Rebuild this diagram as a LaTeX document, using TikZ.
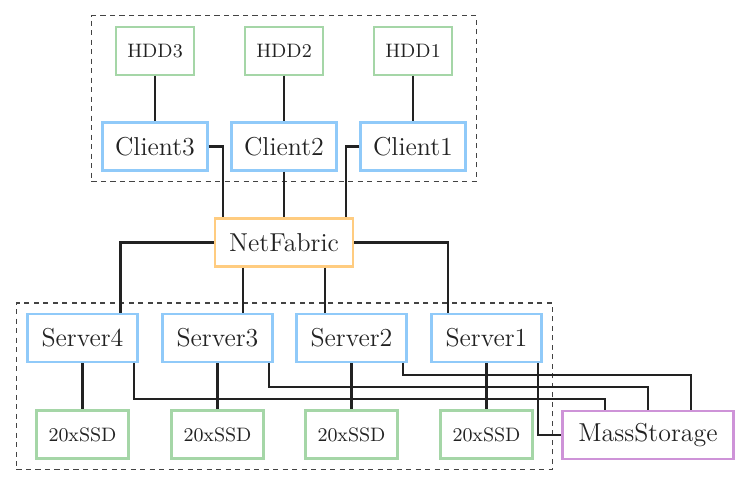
\documentclass[tikz,border=0pt]{standalone}
\usepackage{tikz}
\usetikzlibrary{
  positioning,  % relative placement
  fit,          % dashed groups round the nodes
  calc          % Calculations $...$
}
\def\px{0.463pt}
\definecolor{boxblue}{HTML}{90CAF9}
\definecolor{boxgreen}{HTML}{A5D6A7}
\definecolor{boxorange}{HTML}{FFCC80}
\definecolor{boxpurple}{HTML}{CE93D8}
\definecolor{wire}{HTML}{222222}
\tikzset{
  x=\px,
  y=\px,
  my box/.style={
    draw,
    rectangle,
    line width=0.95pt,
    minimum height=48*\px,
    inner sep=1mm,
    text=wire,
    font=\large
  },
  my disk/.style={
    my box,
    draw=boxgreen,
    font=\small
  },
  my host/.style={
    my box,
    draw=boxblue,
    minimum width=110*\px
  },
  my group/.style={
    draw=wire!85,
    line width=0.6pt,
    dash pattern=on 2.4pt off 2pt,
    inner sep=10*\px
  },
  wired/.style={
    draw=wire,
    line width=0.95pt
  }
}
\begin{document}
\begin{tikzpicture}
\useasboundingbox (0,0) rectangle (739,485);
% clients with their disks
\node[my disk,minimum width=78*\px] (hdd3) at (155,434.3) {HDD3};
\node[my disk,minimum width=78*\px] (hdd2) at (284,434.3) {HDD2};
\node[my disk,minimum width=78*\px] (hdd1) at (413,434.3) {HDD1};
\node[my host,minimum width=105*\px] (client3) at (155,338.5) {Client3};
\node[my host,minimum width=105*\px] (client2) at (284,338.5) {Client2};
\node[my host,minimum width=105*\px] (client1) at (413,338.5) {Client1};
% fabric
\node[my box,draw=boxorange,minimum width=138*\px] (fabric) at (284,242.5) {NetFabric};
% servers with their disks
\node[my host] (server4) at (82.5,147) {Server4};
\node[my host] (server3) at (217.5,147) {Server3};
\node[my host] (server2) at (351.5,147) {Server2};
\node[my host] (server1) at (486.5,147) {Server1};
\node[my disk,minimum width=92*\px] (ssd4) at (82.5,50.5) {20xSSD};
\node[my disk,minimum width=92*\px] (ssd3) at (217.5,50.5) {20xSSD};
\node[my disk,minimum width=92*\px] (ssd2) at (351.5,50.5) {20xSSD};
\node[my disk,minimum width=92*\px] (ssd1) at (486.5,50.5) {20xSSD};
\node[my box,draw=boxpurple,minimum width=171*\px] (mass) at (648,50) {MassStorage};
% groups
\node[my group,fit=(hdd3) (client3) (client1)] (clients) {};
\node[my group,fit=(server4) (ssd4) (server1)] (servers) {};
% connectors
\foreach \i in {1,2,3}
  \path[wired] (hdd\i) -- (client\i);
\foreach \i in {1,2,3,4}
  \path[wired] (server\i) -- (ssd\i);
\path[wired] (client2) -- (fabric)
  (client3.east) -| ([xshift=8.6*\px]fabric.north west)
  (client1.west) -| ([xshift=-8*\px]fabric.north east)
  (fabric.west) -| ([xshift=38*\px]server4.north)
  (fabric.east) -| ([xshift=-38.5*\px]server1.north)
  ([xshift=-40.7*\px]fabric.south) -- ([xshift=-40.7*\px]fabric.south |- server3.north)
  ([xshift=41*\px]fabric.south) -- ([xshift=41*\px]fabric.south |- server2.north);
\path[wired] ([xshift=-5*\px]server4.south east) -- ++(0,-36) -| ([xshift=-43*\px]mass.north)
  ([xshift=-5*\px]server3.south east) -- ++(0,-24.4) -| (mass.north)
  ([xshift=-5*\px]server2.south east) -- ++(0,-12) -| ([xshift=43*\px]mass.north)
  ([xshift=-5*\px]server1.south east) |- (mass.west);
\end{tikzpicture}
\end{document}
